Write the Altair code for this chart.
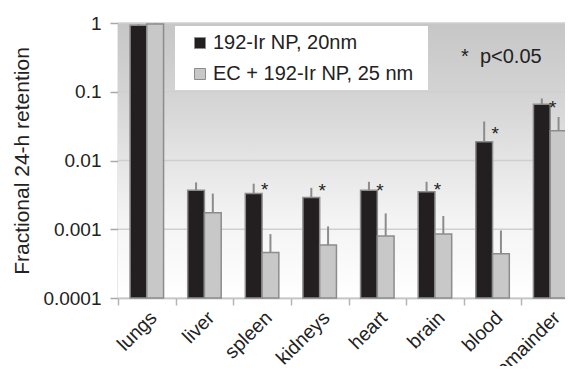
import altair as alt
import pandas as pd

organs = ["lungs", "liver", "spleen", "kidneys", "heart", "brain", "blood", "remainder"]
series = ["192-Ir NP, 20nm", "EC + 192-Ir NP, 25 nm"]

np20 = [0.93, 0.0037, 0.0033, 0.0029, 0.0037, 0.0035, 0.0187, 0.066]
np20_hi = [0.96, 0.0048, 0.0046, 0.0040, 0.0049, 0.0049, 0.037, 0.080]
ec25 = [0.97, 0.00174, 0.00046, 0.00059, 0.00080, 0.00085, 0.00044, 0.027]
ec25_hi = [0.99, 0.0033, 0.00085, 0.0011, 0.0017, 0.00156, 0.00096, 0.043]

star_organs = ["spleen", "kidneys", "heart", "brain", "blood", "remainder"]
star_level = [0.0044, 0.0043, 0.0042, 0.0044, 0.0288, 0.0686]

decades = [0.0001, 0.001, 0.01, 0.1, 1]
note = ["*\u00a0\u00a0p<0.05"]

rows = []
for i, o in enumerate(organs):
    rows.append({"organ": o, "series": series[0], "value": np20[i], "hi": np20_hi[i]})
    rows.append({"organ": o, "series": series[1], "value": ec25[i], "hi": ec25_hi[i]})
df = pd.DataFrame(rows)
stars = pd.DataFrame({"organ": star_organs, "series": series[0], "value": star_level})
grid = pd.DataFrame({"value": decades})
one = pd.DataFrame({"t": note})

W, H = 447, 275
XR = 461

xscale = alt.Scale(domain=organs, range=[0, XR], paddingInner=0, paddingOuter=0)
yscale = alt.Scale(type="log", domain=[0.0001, 1])
xoff = alt.Scale(domain=series, paddingInner=0, paddingOuter=0.72)

x_axis = alt.Axis(title=None, labelAngle=-45, labelFontSize=19.5, labelColor="#222",
                  tickBand="extent", tickSize=7, tickColor="#b5b5b5", tickWidth=1.5,
                  domainColor="#a8a8a8", domainWidth=1.5, labelPadding=3, grid=False)
y_axis = alt.Axis(title="Fractional 24-h retention", titleFontSize=21,
                  titleFontWeight="normal", titleColor="#222", titlePadding=10,
                  values=decades, format=".4~f", labelFontSize=19, labelColor="#222",
                  tickSize=8, tickColor="#a8a8a8", tickWidth=1.5, labelPadding=9,
                  domainColor="#a8a8a8", domainWidth=1.5, grid=False)

def X():
    return alt.X("organ:N", scale=xscale, sort=organs, axis=x_axis)

def Y():
    return alt.Y("value:Q", scale=yscale, axis=y_axis)

bg = alt.Chart(one).mark_rect(
    fill={"gradient": "linear", "x1": 0, "y1": 0, "x2": 0, "y2": 1,
          "stops": [{"offset": 0, "color": "#c6c6c6"},
                    {"offset": 0.3, "color": "#d6d6d6"},
                    {"offset": 0.7, "color": "#f3f3f3"},
                    {"offset": 1, "color": "#ffffff"}]}
).encode(x=alt.value(0), x2=alt.value(XR), y=alt.value(0), y2=alt.value(H))

gridlines = alt.Chart(grid).mark_rule(color="#cfcfcf", strokeWidth=1.5).encode(
    y=Y(), x=alt.value(0), x2=alt.value(XR))

legbox = alt.Chart(one).mark_rect(fill="white").encode(
    x=alt.value(57), x2=alt.value(310), y=alt.value(3), y2=alt.value(67))

bars = alt.Chart(df).mark_bar(stroke="#8c8c8c", strokeWidth=1.5).encode(
    x=X(),
    xOffset=alt.XOffset("series:N", scale=xoff, sort=series),
    y=Y(),
    y2=alt.datum(0.0001),
    color=alt.Color("series:N", sort=series,
                    scale=alt.Scale(domain=series, range=["#231f20", "#c8c8c8"]),
                    legend=alt.Legend(orient="none", legendX=72, legendY=10, title=None,
                                      symbolType="square", symbolSize=121,
                                      symbolStrokeColor="#8c8c8c", symbolStrokeWidth=1,
                                      labelFontSize=20, labelColor="#222", labelOffset=3,
                                      labelLimit=400, rowPadding=11, padding=0)),
)

errs = alt.Chart(df).mark_rule(color="#8c8c8c", strokeWidth=2).encode(
    x=X(),
    xOffset=alt.XOffset("series:N", scale=xoff, sort=series),
    y=Y(),
    y2="hi:Q",
)

startext = alt.Chart(stars).mark_text(text="*", fontSize=19, fontWeight="normal", dx=11, dy=11,
                                      baseline="alphabetic", align="center", color="#222").encode(
    x=X(),
    xOffset=alt.XOffset("series:N", scale=xoff, sort=series),
    y=Y(),
)

ptext = alt.Chart(one).mark_text(fontSize=20, fontWeight="normal",
                                 align="left", baseline="alphabetic", color="#222").encode(
    text="t:N", x=alt.value(343), y=alt.value(40))

chart = alt.layer(bg, gridlines, legbox, errs, bars, startext, ptext).properties(
    width=W, height=H,
    autosize=alt.AutoSizeParams(type="none"),
    padding={"left": 110, "top": 15, "right": 0, "bottom": 68},
).configure_view(stroke=None, fill=None).configure(font="Liberation Sans")

chart.save("out.html", embed_options={"renderer": "svg", "actions": False})
